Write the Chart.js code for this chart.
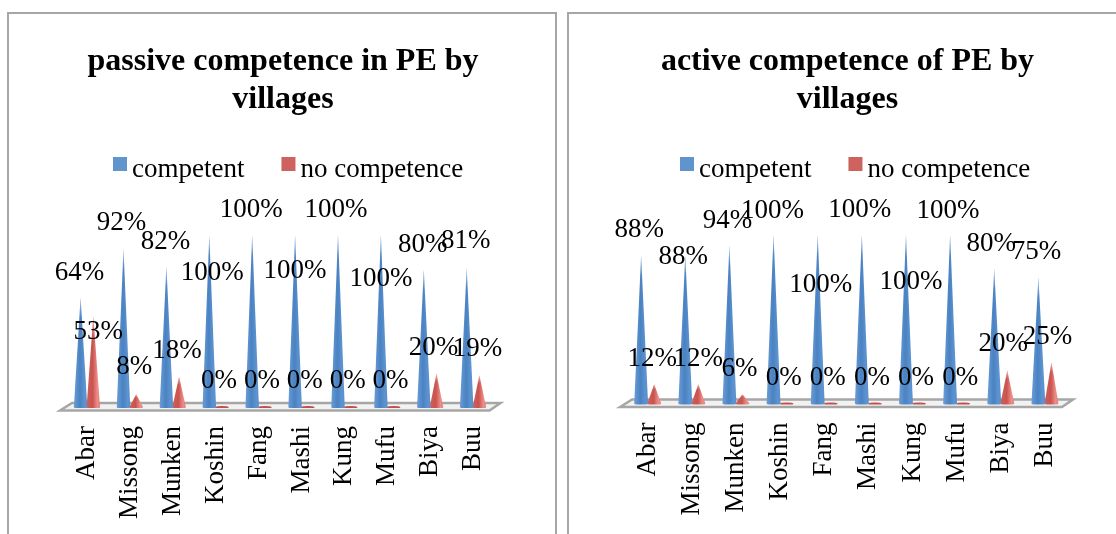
<!DOCTYPE html>
<html><head><meta charset="utf-8">
<script src="https://cdn.jsdelivr.net/npm/chart.js@4"></script>
<style>
html,body{margin:0;padding:0;background:#fff;width:1116px;height:534px;overflow:hidden}
.frame{position:absolute;top:12px;height:600px;box-sizing:border-box;border:2px solid #a6a6a6}
canvas{position:absolute;top:12px}
</style></head><body>
<div class="frame" style="left:7px;width:550px"></div>
<div class="frame" style="left:567px;width:562px"></div>
<canvas id="c1" width="550" height="522" style="left:7px"></canvas>
<canvas id="c2" width="561" height="522" style="left:567px"></canvas>
<script>
const villages = ["Abar","Missong","Munken","Koshin","Fang","Mashi","Kung","Mufu","Biya","Buu"];
const seriesNames = ["competent","no competence"];
const titleA = ["passive competence in PE by","villages"];
const titleB = ["active competence of PE by","villages"];
const passiveCompetent = [64,92,82,100,100,100,100,100,80,81];
const passiveNone = [53,8,18,0,0,0,0,0,20,19];
const activeCompetent = [88,88,94,100,100,100,100,100,80,75];
const activeNone = [12,12,6,0,0,0,0,0,20,25];

// label nudges (px) relative to each cone tip, as placed in the reference
const nudgeA = [
  {dx:[-1,-2,-1,3,-1,0,-2,0,-1,-1], dy:[-26,-27,-26,36,-27,34,-27,42,-26,-28]},
  {dx:[5,-2,-2,-3,-3,-3,-3,-3,-3,-2], dy:[14,-29,-27,-29,-29,-29,-29,-29,-27,-28]}
];
const nudgeB = [
  {dx:[-2,-2,-2,-1,3,-2,5,-2,-3,-2], dy:[-27,0,-26,-26,48,-27,45,-26,-27,-27]},
  {dx:[-2,0,-3,-3,-3,-3,-3,-3,-4,-4], dy:[-27,-27,-27,-28,-28,-28,-28,-28,-28,-27]}
];

const BLUE = "#5f94cd", RED = "#cd625f";
const SERIF = "'Liberation Serif'";
const shades = {
  [BLUE]: ["#6a9dd6","#4a82c2","#5c93d0","#5a8fca"],
  [RED]:  ["#cf5f5b","#c9544f","#ee8d88","#e07c77"]
};

// Bars are kept as library elements; only their look becomes a cone.
Chart.elements.BarElement.prototype.draw = function (ctx) {
  const {x, y, base, width} = this.getProps(["x","y","base","width"], true);
  const col = this.options.backgroundColor;
  const hw = width / 2, s = shades[col];
  ctx.save();
  if (base - y < 1) {
    ctx.fillStyle = "#c0504d";
    ctx.beginPath(); ctx.ellipse(x, base - 0.5, hw, 1.6, 0, 0, Math.PI * 2); ctx.fill();
    ctx.restore(); return;
  }
  ctx.beginPath();
  ctx.moveTo(x, y);
  ctx.lineTo(x + hw, base - 1);
  ctx.ellipse(x, base - 1, hw, 2, 0, 0, Math.PI);
  ctx.closePath();
  ctx.clip();
  const g = ctx.createLinearGradient(x - hw, 0, x + hw, 0);
  g.addColorStop(0, s[0]); g.addColorStop(0.45, s[1]); g.addColorStop(0.8, s[2]); g.addColorStop(1, s[3]);
  ctx.fillStyle = g;
  ctx.fillRect(x - hw - 1, y, width + 2, base - y + 3);
  const fade = Math.min(20, (base - y) * 0.25);
  const v = ctx.createLinearGradient(0, y, 0, y + fade);
  v.addColorStop(0, "rgba(255,255,255,0.55)"); v.addColorStop(1, "rgba(255,255,255,0)");
  ctx.fillStyle = v;
  ctx.fillRect(x - hw - 1, y, width + 2, fade);
  ctx.restore();
};

const conePlugin = {
  id: "coneExtras",
  beforeDatasetsDraw(chart) {
    const s = chart.scales.x, b = chart.scales.y.getPixelForValue(0), c = chart.ctx;
    c.save();
    c.beginPath();
    c.moveTo(s.left - 5.5, b + 2.5);
    c.lineTo(s.left + 6.5, b - 5);
    c.lineTo(s.right + 6, b - 5);
    c.lineTo(s.right - 5, b + 2.5);
    c.closePath();
    c.fillStyle = "#f2f2f2"; c.fill();
    c.strokeStyle = "#a6a6a6"; c.lineWidth = 2.5; c.stroke();
    c.restore();
  },
  afterDatasetsDraw(chart, args, opts) {
    const c = chart.ctx;
    c.save();
    c.font = "27px " + SERIF; c.fillStyle = "#000";
    c.textAlign = "center"; c.textBaseline = "middle";
    chart.data.datasets.forEach((d, i) => {
      chart.getDatasetMeta(i).data.forEach((el, j) => {
        const n = opts.nudge[i];
        c.fillText(d.data[j] + "%", el.x + n.dx[j], el.y + n.dy[j] + 1.5);
      });
    });
    c.restore();
  },
  afterDraw(chart, args, opts) {
    const c = chart.ctx, y = opts.legendY;
    c.save();
    c.font = "27px " + SERIF; c.textBaseline = "middle"; c.textAlign = "left";
    let x = opts.legendX;
    chart.data.datasets.forEach((d) => {
      c.fillStyle = d.backgroundColor;
      c.fillRect(x, y - 12.5, 14, 14);
      c.fillStyle = "#000";
      c.fillText(d.label, x + 19, y);
      x += 19 + c.measureText(d.label).width + 37;
    });
    c.restore();
  }
};

function make(id, title, vals, nudge, pad, legendX) {
  new Chart(document.getElementById(id), {
    type: "bar",
    data: {
      labels: villages,
      datasets: [
        {label: seriesNames[0], data: vals[0], backgroundColor: BLUE},
        {label: seriesNames[1], data: vals[1], backgroundColor: RED}
      ]
    },
    plugins: [conePlugin],
    options: {
      responsive: false, animation: false,
      categoryPercentage: 0.592, barPercentage: 1.06,
      layout: {padding: {left: pad.left, right: pad.right, top: 0, bottom: pad.bottom}},
      plugins: {
        legend: {display: false},
        tooltip: {enabled: false},
        title: {
          display: true, text: title, color: "#000",
          font: {family: SERIF, size: 32, weight: "bold", lineHeight: 1.18},
          padding: {top: 31, bottom: 116.5}
        },
        coneExtras: {nudge, legendX, legendY: 157.5}
      },
      scales: {
        x: {
          grid: {display: false}, border: {display: false},
          afterFit: s => { s.height = pad.axisH; },
          ticks: {
            color: "#000", font: {family: SERIF, size: 27},
            minRotation: 90, maxRotation: 90, padding: 10, autoSkip: false
          }
        },
        y: {
          position: "right", min: 0, max: 100,
          grid: {display: false}, border: {display: false},
          ticks: {display: false},
          afterFit: s => { s.width = pad.axis; }
        }
      }
    }
  });
}
make("c1", titleA, [passiveCompetent, passiveNone], nudgeA, {left: 58.5, right: 56.5, axis: 6, bottom: 0, axisH: 126}, 106);
make("c2", titleB, [activeCompetent, activeNone], nudgeB, {left: 58.6, right: 58.6, axis: 2.4, bottom: 0, axisH: 129.5}, 113);
</script>
</body></html>
